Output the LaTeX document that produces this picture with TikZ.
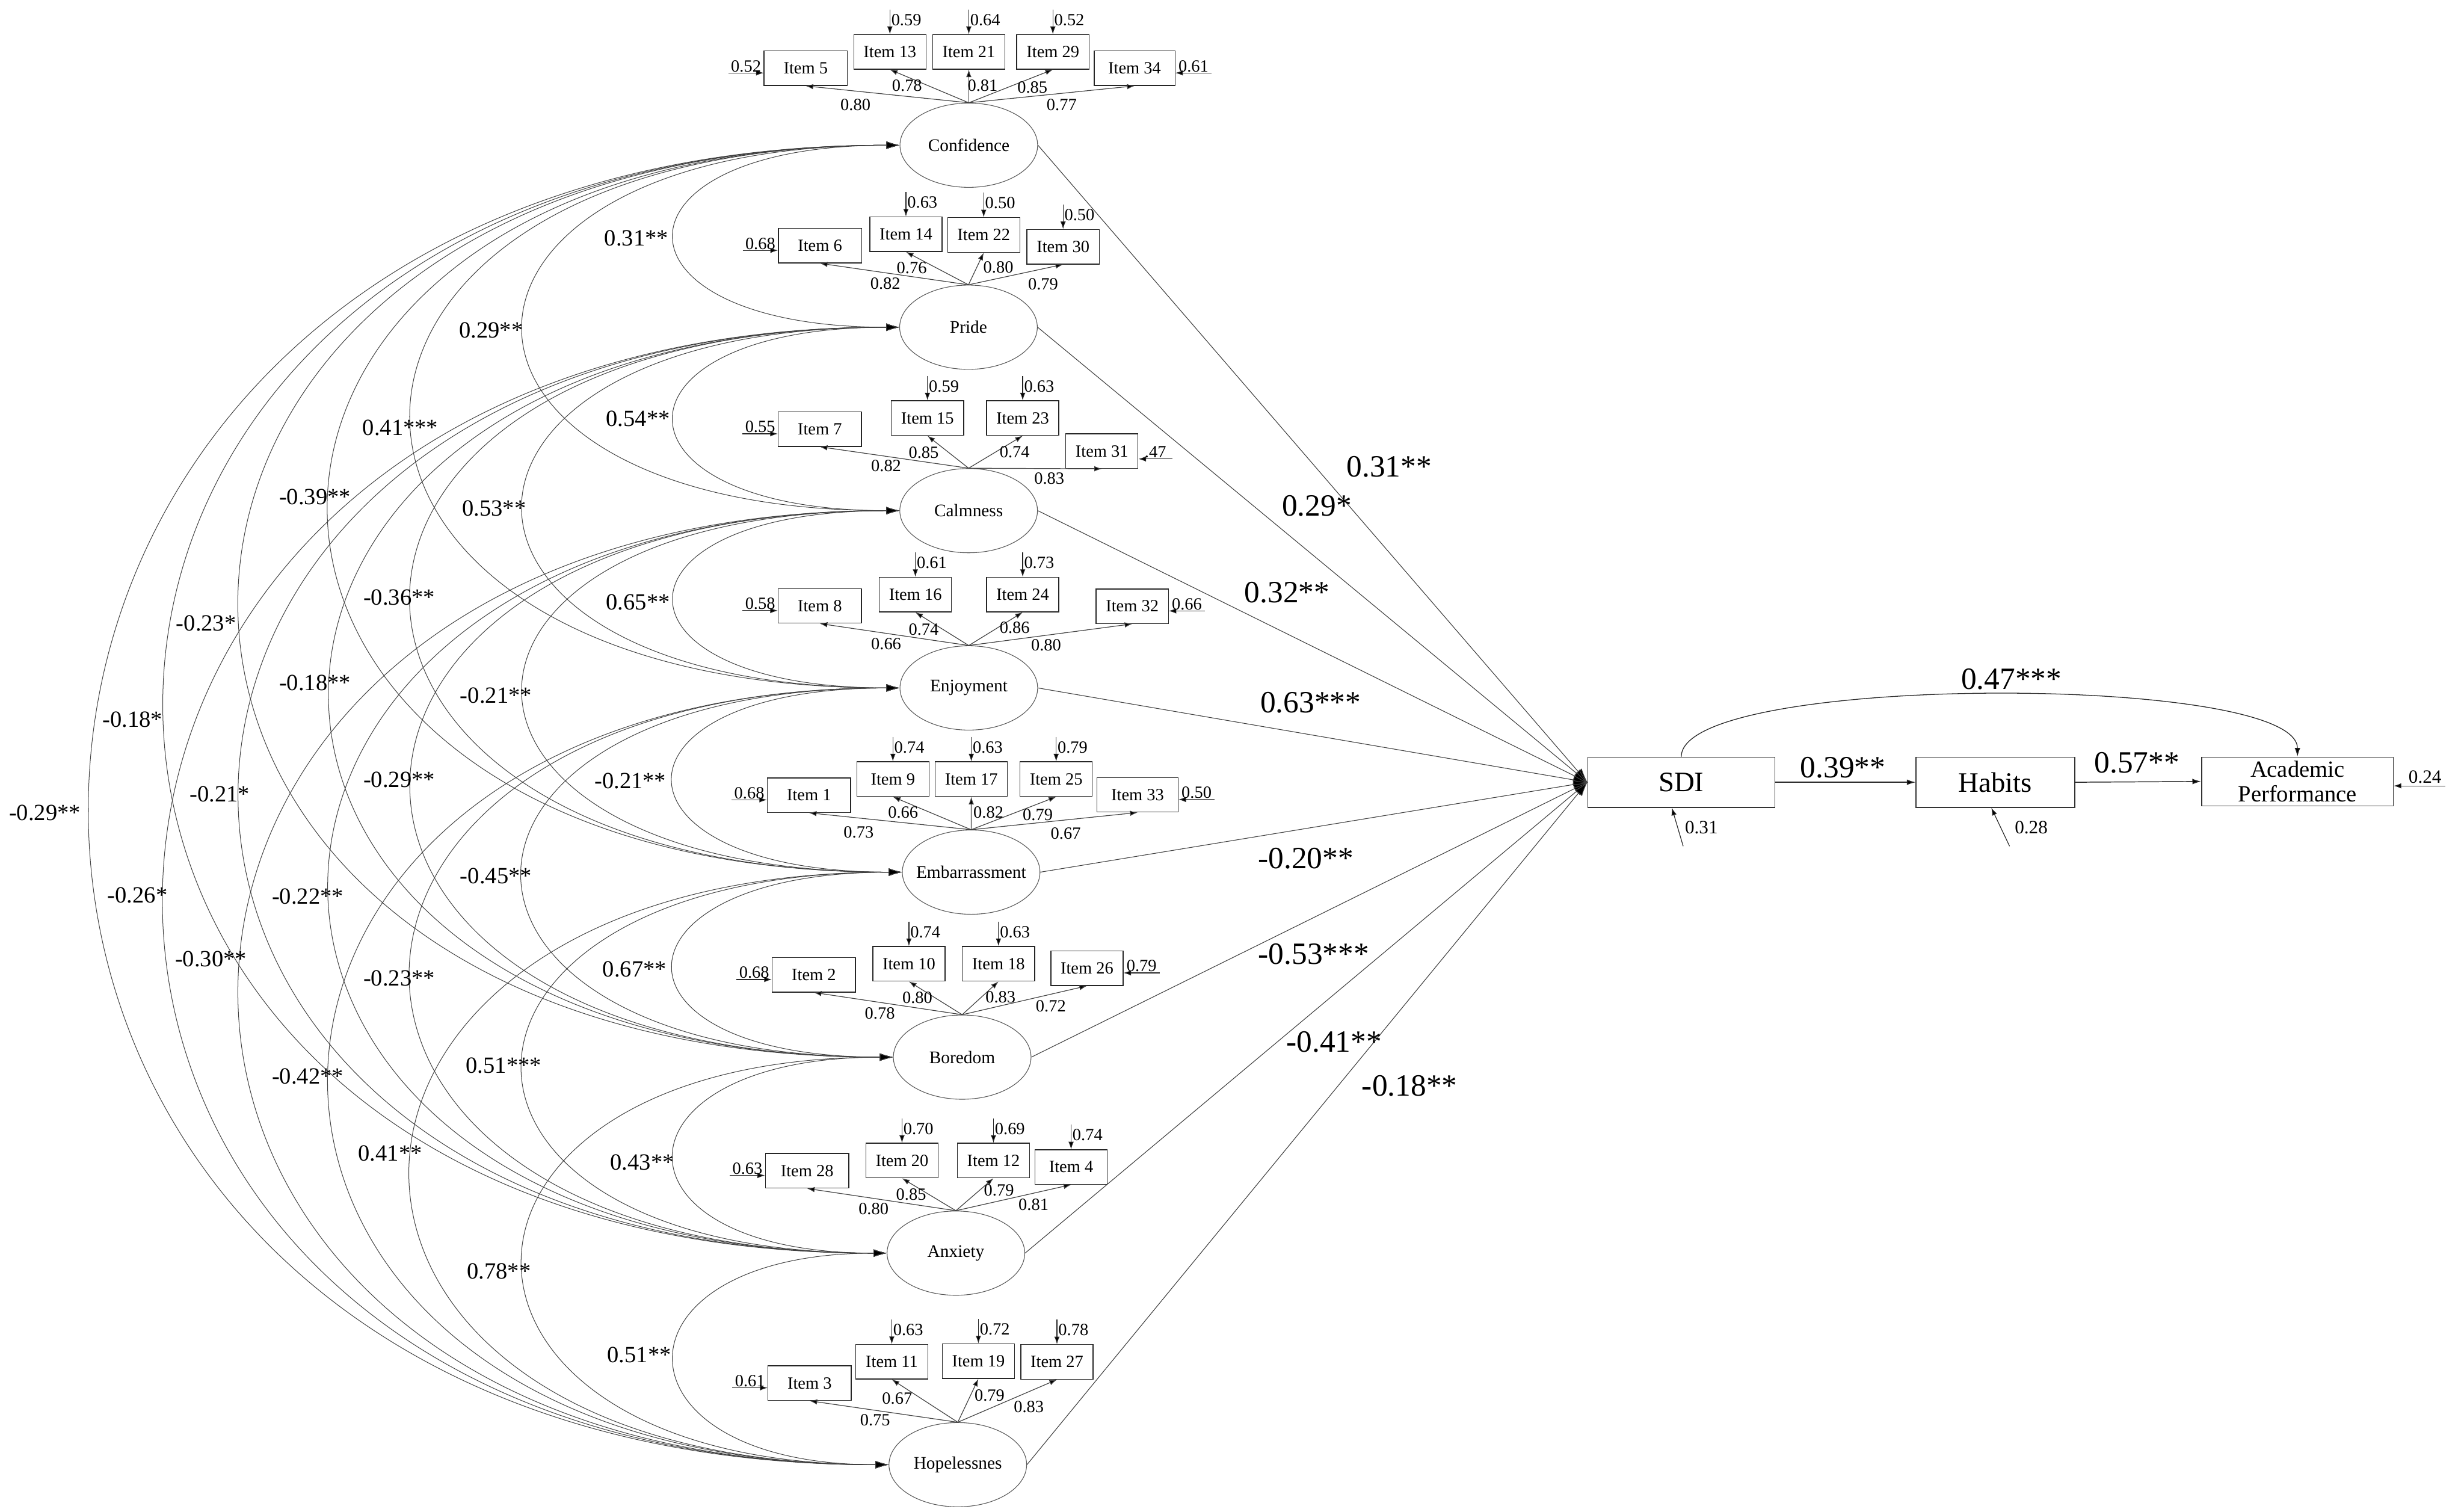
\documentclass[tikz,border=0pt]{standalone}
\usepackage{fontspec}
\setmainfont{Liberation Serif}
\usetikzlibrary{arrows.meta,shapes.geometric}
\newcommand{\restop}[2]{\draw[res] ([yshift=0.78cm]#1.north) -- node[pos=0.42, right=1pt, num] (#1-r) {#2} (#1.north);}
\newcommand{\resleft}[2]{\draw[res] ([xshift=-1.12cm,yshift=-0.15cm]#1.west) -- node[above=0.6pt, num] (#1-r) {#2} ([yshift=-0.15cm]#1.west);}
\newcommand{\resright}[2]{\draw[res] ([xshift=1.15cm,yshift=-0.15cm]#1.east) -- node[above=0.6pt, num] (#1-r) {#2} ([yshift=-0.15cm]#1.east);}
\newcommand{\loadto}[4]{\draw[load] (#1.north) -- (#2.south); \node[num] (#2-l) at (#3) {#4};}
\newcommand{\covarc}[3]{\draw[cov] (#1.west) .. controls +(-#3,0) and +(-#3,0) .. (#2.west);}
\begin{document}
\begin{tikzpicture}[x=0.05cm,y=-0.05cm,
  itemw/.style={draw=black!85, line width=0.75pt, minimum width=2.65cm, minimum height=1.1cm, inner sep=0pt, font=\fontsize{15.5}{18}\selectfont},
  itemn/.style={itemw, minimum width=2.3cm},
  latent/.style={ellipse, draw=black!65, line width=0.6pt, minimum width=4.38cm, minimum height=2.68cm, inner sep=0pt, font=\fontsize{16}{19}\selectfont},
  obs/.style={draw=black!80, line width=0.75pt, minimum height=1.6cm, inner sep=0pt, font=\fontsize{25.5}{30}\selectfont},
  num/.style={font=\fontsize{15.5}{18}\selectfont, inner sep=0pt},
  covlab/.style={font=\fontsize{21}{24}\selectfont, inner sep=0pt},
  pathlab/.style={font=\fontsize{28}{32}\selectfont, inner sep=0pt},
  load/.style={draw=black!75, line width=0.65pt, -{Latex[length=0.24cm,width=0.17cm,fill=black]}},
  res/.style={draw=black!85, line width=0.65pt, -{Latex[length=0.24cm,width=0.17cm,fill=black]}},
  cov/.style={draw=black!75, line width=0.55pt, {Latex[length=0.42cm,width=0.24cm,fill=black]}-{Latex[length=0.42cm,width=0.24cm,fill=black]}},
  reg/.style={draw=black!75, line width=0.6pt, -{Latex[length=0.45cm,width=0.3cm,fill=black]}},
  arr/.style={draw=black!85, line width=0.8pt, -{Latex[length=0.28cm,width=0.18cm,fill=black]}},
]
\useasboundingbox (0,0) rectangle (1568,962);

% ---------- latent variables ----------
\node[latent] (conf)  at (616.5,92.4)  {\makebox[0pt]{Confidence}};
\node[latent] (pride) at (616.3,208.2) {\makebox[0pt]{Pride}};
\node[latent] (calm)  at (616.4,324.9) {\makebox[0pt]{Calmness}};
\node[latent] (enj)   at (616.5,437.7) {\makebox[0pt]{Enjoyment}};
\node[latent] (emb)   at (618,554.9)   {\makebox[0pt]{Embarrassment}};
\node[latent] (bor)   at (612.3,672.6) {\makebox[0pt]{Boredom}};
\node[latent] (anx)   at (608.3,797.3) {\makebox[0pt]{Anxiety}};
\node[latent] (hop)   at (609.5,931.9) {\makebox[0pt]{Hopelessnes}};

% ---------- Confidence items ----------
\node[itemw] (i5)  at (512.7,43.4) {Item 5};
\node[itemn] (i13) at (566.3,33)   {Item 13};
\node[itemn] (i21) at (616.5,33)   {Item 21};
\node[itemn] (i29) at (670,33)     {Item 29};
\node[itemw, minimum width=2.57cm] (i34) at (722,43.4) {Item 34};
\resleft{i5}{0.52}
\restop{i13}{0.59}
\restop{i21}{0.64}
\restop{i29}{0.52}
\resright{i34}{0.61}
\loadto{conf}{i5}{544.4,66.6}{0.80}
\loadto{conf}{i13}{577.2,54.6}{0.78}
\loadto{conf}{i21}{625.3,54.6}{0.81}
\loadto{conf}{i29}{657,55.6}{0.85}
\loadto{conf}{i34}{675.6,66.6}{0.77}

% ---------- Pride items ----------
\node[itemw] (i6)  at (521.8,156.3) {Item 6};
\node[itemn] (i14) at (576.5,149)   {Item 14};
\node[itemn] (i22) at (626,149.5)   {Item 22};
\node[itemn] (i30) at (676.5,157)   {Item 30};
\resleft{i6}{0.68}
\restop{i14}{0.63}
\restop{i22}{0.50}
\restop{i30}{0.50}
\loadto{pride}{i6}{563.4,180.4}{0.82}
\loadto{pride}{i14}{580.2,170.4}{0.76}
\loadto{pride}{i22}{635.3,170.1}{0.80}
\loadto{pride}{i30}{663.8,180.9}{0.79}

% ---------- Calmness items ----------
\node[itemw] (i7)  at (521.7,273)   {Item 7};
\node[itemn] (i15) at (590.2,266)   {Item 15};
\node[itemn] (i23) at (650.8,266)   {Item 23};
\node[itemn] (i31) at (701.2,287)   {Item 31};
\resleft{i7}{0.55}
\restop{i15}{0.59}
\restop{i23}{0.63}
\draw[res] ([xshift=1.08cm,yshift=-0.25cm]i31.east) -- node[above=0.6pt, num] (i31-r) {.47} ([yshift=-0.25cm]i31.east);
\loadto{calm}{i7}{563.9,296.5}{0.82}
\loadto{calm}{i15}{587.8,288.1}{0.85}
\loadto{calm}{i23}{645.7,287.6}{0.74}
\loadto{calm}{i31}{667.7,304.5}{0.83}

% ---------- Enjoyment items ----------
\node[itemw] (i8)  at (521.7,385.5) {Item 8};
\node[itemn] (i16) at (582.5,378.3) {Item 16};
\node[itemn] (i24) at (650.8,378.3) {Item 24};
\node[itemn] (i32) at (720.5,385.7) {Item 32};
\resleft{i8}{0.58}
\restop{i16}{0.61}
\restop{i24}{0.73}
\resright{i32}{0.66}
\loadto{enj}{i8}{563.9,409.8}{0.66}
\loadto{enj}{i16}{587.8,400.4}{0.74}
\loadto{enj}{i24}{645.7,399.4}{0.86}
\loadto{enj}{i32}{665.7,410.3}{0.80}

% ---------- Embarrassment items ----------
\node[itemw] (i1)  at (514.8,505.9) {Item 1};
\node[itemn] (i9)  at (568.2,495.7) {Item 9};
\node[itemn] (i17) at (618.1,495.7) {Item 17};
\node[itemn] (i25) at (672.1,495.7) {Item 25};
\node[itemw, minimum width=2.58cm] (i33) at (723.9,505.7) {Item 33};
\resleft{i1}{0.68}
\restop{i9}{0.74}
\restop{i17}{0.63}
\restop{i25}{0.79}
\resright{i33}{0.50}
\loadto{emb}{i1}{546.4,529.6}{0.73}
\loadto{emb}{i9}{574.7,516.7}{0.66}
\loadto{emb}{i17}{629,516.7}{0.82}
\loadto{emb}{i25}{660.4,518.6}{0.79}
\loadto{emb}{i33}{678.2,530.1}{0.67}

% ---------- Boredom items ----------
\node[itemw] (i2)  at (517.9,620.2) {Item 2};
\node[itemn] (i10) at (578.4,613.2) {Item 10};
\node[itemn] (i18) at (635.4,613.2) {Item 18};
\node[itemn] (i26) at (691.7,616)   {Item 26};
\resleft{i2}{0.68}
\restop{i10}{0.74}
\restop{i18}{0.63}
\resright{i26}{0.79}
\loadto{bor}{i2}{559.9,644.8}{0.78}
\loadto{bor}{i10}{583.8,634.8}{0.80}
\loadto{bor}{i18}{636.7,634.3}{0.83}
\loadto{bor}{i26}{668.7,640.3}{0.72}

% ---------- Anxiety items ----------
\node[itemw] (i28) at (513.6,744.9) {Item 28};
\node[itemn] (i20) at (574,738.4)   {Item 20};
\node[itemn] (i12) at (632.2,738.4) {Item 12};
\node[itemn] (i4)  at (681.6,742.5) {Item 4};
\resleft{i28}{0.63}
\restop{i20}{0.70}
\restop{i12}{0.69}
\restop{i4}{0.74}
\loadto{anx}{i28}{555.9,769}{0.80}
\loadto{anx}{i20}{579.8,760.1}{0.85}
\loadto{anx}{i12}{635.7,757.1}{0.79}
\loadto{anx}{i4}{657.7,766.5}{0.81}

% ---------- Hopelessness items ----------
\node[itemw] (i3)  at (515.2,880)   {Item 3};
\node[itemn] (i11) at (567.5,866.4) {Item 11};
\node[itemn] (i19) at (622.6,866)   {Item 19};
\node[itemn] (i27) at (672.6,866.5) {Item 27};
\resleft{i3}{0.61}
\restop{i11}{0.63}
\restop{i19}{0.72}
\restop{i27}{0.78}
\loadto{hop}{i3}{556.9,903.6}{0.75}
\loadto{hop}{i11}{570.9,889.7}{0.67}
\loadto{hop}{i19}{629.7,887.7}{0.79}
\loadto{hop}{i27}{654.7,895.2}{0.83}

% ---------- covariances ----------
\covarc{conf}{pride}{190}
\covarc{pride}{calm}{190}
\covarc{calm}{enj}{190}
\covarc{enj}{emb}{192}
\covarc{emb}{bor}{189}
\covarc{bor}{anx}{182}
\covarc{anx}{hop}{180}
\covarc{conf}{calm}{318}
\covarc{pride}{enj}{318}
\covarc{calm}{emb}{319}
\covarc{enj}{bor}{316}
\covarc{emb}{anx}{314}
\covarc{bor}{hop}{311}
\covarc{conf}{enj}{413}
\covarc{pride}{emb}{414}
\covarc{calm}{bor}{410}
\covarc{enj}{anx}{408}
\covarc{emb}{hop}{410}
\covarc{conf}{emb}{484}
\covarc{pride}{bor}{479}
\covarc{calm}{anx}{477}
\covarc{enj}{hop}{478}
\covarc{conf}{bor}{556}
\covarc{pride}{anx}{553}
\covarc{calm}{hop}{554}
\covarc{conf}{anx}{617}
\covarc{pride}{hop}{618}
\covarc{conf}{hop}{681}

\node[covlab] (c01) at (405,151.7)   {0.31**};
\node[covlab] (c02) at (312.5,210.2) {0.29**};
\node[covlab] (c03) at (254.8,272)   {0.41***};
\node[covlab] (c04) at (406,266.6)   {0.54**};
\node[covlab] (c05) at (200.4,316.1) {-0.39**};
\node[covlab] (c06) at (314.4,323.3) {0.53**};
\node[covlab] (c07) at (131.2,396.5) {-0.23*};
\node[covlab] (c08) at (254,380)     {-0.36**};
\node[covlab] (c09) at (406,383.2)   {0.65**};
\node[covlab] (c10) at (200.4,434.3) {-0.18**};
\node[covlab] (c11) at (315.6,442.5) {-0.21**};
\node[covlab] (c12) at (84.4,457.7)  {-0.18*};
\node[covlab] (c13) at (28.5,517.1)  {-0.29**};
\node[covlab] (c14) at (139.9,505.4) {-0.21*};
\node[covlab] (c15) at (254,496.1)   {-0.29**};
\node[covlab] (c16) at (401.1,497)   {-0.21**};
\node[covlab] (c17) at (87.5,569.7)  {-0.26*};
\node[covlab] (c18) at (195.8,570.4) {-0.22**};
\node[covlab] (c19) at (315.6,557.4) {-0.45**};
\node[covlab] (c20) at (134.2,610)   {-0.30**};
\node[covlab] (c21) at (254,622.4)   {-0.23**};
\node[covlab] (c22) at (403.8,616.8) {0.67**};
\node[covlab] (c23) at (195.8,684.9) {-0.42**};
\node[covlab] (c24) at (320.5,678.1) {0.51***};
\node[covlab] (c25) at (248.3,733.8) {0.41**};
\node[covlab] (c26) at (408.7,739.4) {0.43**};
\node[covlab] (c27) at (317.5,809)   {0.78**};
\node[covlab] (c28) at (406.8,862.2) {0.51**};

% ---------- structural part ----------
\node[obs, minimum width=5.95cm] (sdi) at (1069.9,497.7) {SDI};
\node[obs, minimum width=5.05cm] (hab) at (1269.8,497.7) {Habits};
\node[obs, minimum width=6.1cm, minimum height=1.55cm, align=center, font=\fontsize{21}{22.7}\selectfont] (ap) at (1462,497.2) {Academic\\Performance};

\draw[reg] (conf.east)  -- (sdi.west);
\draw[reg] (pride.east) -- (sdi.west);
\draw[reg] (calm.east)  -- (sdi.west);
\draw[reg] (enj.east)   -- (sdi.west);
\draw[reg] (emb.east)   -- (sdi.west);
\draw[reg] (bor.east)   -- (sdi.west);
\draw[reg] (anx.east)   -- (sdi.west);
\draw[reg] (hop.east)   -- (sdi.west);

\node[pathlab] (p1) at (884,297)   {0.31**};
\node[pathlab] (p2) at (838,322)   {0.29*};
\node[pathlab] (p3) at (819,377)   {0.32**};
\node[pathlab] (p4) at (834,447)   {0.63***};
\node[pathlab] (p5) at (831,546)   {-0.20**};
\node[pathlab] (p6) at (836,607)   {-0.53***};
\node[pathlab] (p7) at (849,663)   {-0.41**};
\node[pathlab] (p8) at (897,691)   {-0.18**};

\draw[arr] (sdi.east) -- (hab.west);
\draw[arr] (hab.east) -- (ap.west);
\draw[arr, line width=0.7pt] (sdi.north) .. controls +(0,-53) and +(0,-53) .. (ap.north);
\node[pathlab] (p9)  at (1172.8,488.3) {0.39**};
\node[pathlab] (p10) at (1359.8,485.3) {0.57**};
\node[pathlab] (p11) at (1280,432.2)   {0.47***};

\draw[res] ([xshift=0.06cm,yshift=-1.22cm]sdi.south) -- ([xshift=-0.3cm]sdi.south);
\node[font=\fontsize{17}{20}\selectfont, inner sep=0pt] (sdi-r) at (1082.7,526.5) {0.31};
\draw[res] ([xshift=0.45cm,yshift=-1.22cm]hab.south) -- ([xshift=-0.13cm]hab.south);
\node[font=\fontsize{17}{20}\selectfont, inner sep=0pt] (hab-r) at (1292.6,526.5) {0.28};
\draw[res] ([xshift=1.64cm,yshift=-0.14cm]ap.east) -- ([yshift=-0.14cm]ap.east);
\node[font=\fontsize{17}{20}\selectfont, inner sep=0pt] (ap-r) at (1543.2,494.3) {0.24};
\end{tikzpicture}
\end{document}
